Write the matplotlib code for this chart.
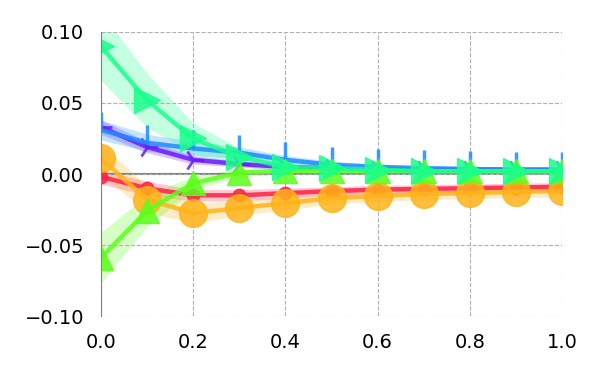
import numpy as np
import matplotlib
matplotlib.use('Agg')
import matplotlib.pyplot as plt

x = [0.0, 0.1, 0.2, 0.3, 0.4, 0.5, 0.6, 0.7, 0.8, 0.9, 1.0]

purple_y = [0.033, 0.019, 0.010, 0.007, 0.005, 0.004, 0.003, 0.003, 0.003, 0.003, 0.003]
purple_s = [0.005, 0.004, 0.003, 0.002, 0.002, 0.0015, 0.0015, 0.0015, 0.0015, 0.0015, 0.0015]

blue_y = [0.031, 0.022, 0.018, 0.015, 0.010, 0.0065, 0.005, 0.004, 0.0035, 0.003, 0.003]
blue_s = [0.007, 0.006, 0.005, 0.004, 0.003, 0.0025, 0.002, 0.002, 0.002, 0.002, 0.002]

red_y = [-0.002, -0.010, -0.015, -0.015, -0.0135, -0.012, -0.011, -0.0105, -0.010, -0.0095, -0.009]
red_s = [0.005, 0.005, 0.004, 0.004, 0.0035, 0.003, 0.003, 0.003, 0.003, 0.003, 0.003]

orange_y = [0.011, -0.018, -0.0275, -0.024, -0.0205, -0.017, -0.0155, -0.014, -0.0135, -0.0125, -0.012]
orange_s = [0.011, 0.009, 0.007, 0.005, 0.005, 0.004, 0.004, 0.004, 0.004, 0.004, 0.004]

lawn_y = [-0.059, -0.026, -0.0065, 0.001, 0.002, 0.002, 0.002, 0.002, 0.002, 0.002, 0.002]
lawn_s = [0.018, 0.011, 0.005, 0.003, 0.002, 0.002, 0.002, 0.002, 0.002, 0.002, 0.002]

spring_y = [0.090, 0.052, 0.025, 0.012, 0.005, 0.004, 0.003, 0.002, 0.002, 0.002, 0.002]
spring_s = [0.024, 0.019, 0.011, 0.006, 0.004, 0.003, 0.002, 0.002, 0.002, 0.002, 0.002]

# (values, spread, colour, marker, size, edge width)
series = [
    (purple_y, purple_s, '#6a1aff', '4', 16, 2.0),
    (blue_y, blue_s, '#1a8cff', 2, 13, 2.5),
    (red_y, red_s, '#ff1f45', 'o', 9, 1.0),
    (orange_y, orange_s, '#ffb319', 'o', 20, 1.0),
    (lawn_y, lawn_s, '#5cff1a', '^', 17, 1.0),
    (spring_y, spring_s, '#1aff8c', '>', 19, 1.0),
]

fig = plt.figure(figsize=(6, 3.75), dpi=100)
ax = fig.add_axes([0.168, 0.157, 0.769, 0.758])

for ys, ss, col, mk, ms, mew in series:
    ys = np.array(ys); ss = np.array(ss)
    ax.fill_between(x, ys - ss, ys + ss, color=col, alpha=0.25, lw=0)
    ax.plot(x, ys, color=col, lw=3.2, alpha=0.85, marker=mk, ms=ms, mew=mew,
            mec=col, mfc=col)

ax.axhline(0, color='gray', lw=1.5, zorder=1)
ax.set_xlim(0, 1); ax.set_ylim(-0.1, 0.1)
ax.set_xticks([0.0, 0.2, 0.4, 0.6, 0.8, 1.0])
ax.set_yticks([-0.10, -0.05, 0.00, 0.05, 0.10])
ax.grid(True, ls='--', color='#b0b0b0', lw=0.8)
for s in ['top', 'right', 'bottom']:
    ax.spines[s].set_visible(False)
ax.spines['left'].set_color('gray')
ax.tick_params(length=0, labelsize=14, pad=12)

plt.savefig('out.png', dpi=100)
